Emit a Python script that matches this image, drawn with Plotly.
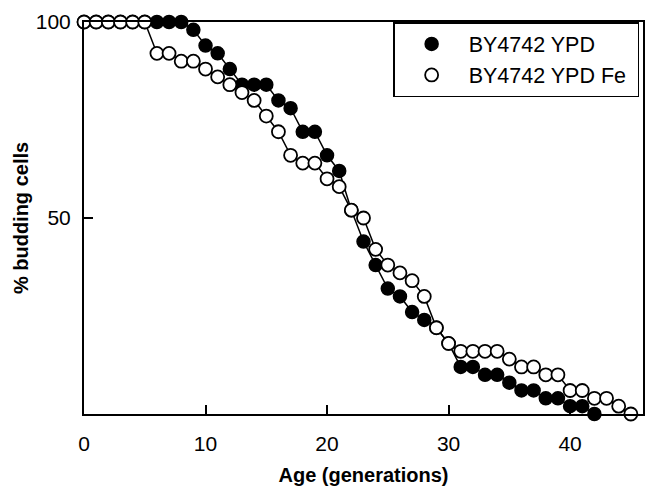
import plotly.graph_objects as go

gen_ypd = list(range(0, 43))
ypd = [100, 100, 100, 100, 100, 100, 100, 100, 100, 98,
       94, 92, 88, 84, 84, 84, 80, 78, 72, 72,
       66, 62, 52, 44, 38, 32, 30, 26, 24, 22,
       18, 12, 12, 10, 10, 8, 6, 6, 4, 4,
       2, 2, 0]

gen_fe = list(range(0, 46))
ypd_fe = [100, 100, 100, 100, 100, 100, 92, 92, 90, 90,
          88, 86, 84, 82, 80, 76, 72, 66, 64, 64,
          60, 58, 52, 50, 42, 38, 36, 34, 30, 22,
          18, 16, 16, 16, 16, 14, 12, 12, 10, 10,
          6, 6, 4, 4, 2, 0]

x_ticks = [0, 10, 20, 30, 40]
y_ticks = [50, 100]

FONT = "Liberation Sans, Arial, sans-serif"

fig = go.Figure()
fig.add_trace(go.Scatter(x=gen_ypd, y=ypd, mode="lines", line=dict(color="black", width=1.5),
                         showlegend=False, hoverinfo="skip", cliponaxis=False))
fig.add_trace(go.Scatter(x=gen_ypd, y=ypd, mode="markers", name="BY4742 YPD",
                         marker=dict(size=13, color="black", line=dict(color="black", width=1.5)),
                         cliponaxis=False))
fig.add_trace(go.Scatter(x=gen_fe, y=ypd_fe, mode="lines", line=dict(color="black", width=1.5),
                         showlegend=False, hoverinfo="skip", cliponaxis=False))
fig.add_trace(go.Scatter(x=gen_fe, y=ypd_fe, mode="markers", name="BY4742 YPD Fe&nbsp;",
                         marker=dict(size=13, color="white", line=dict(color="black", width=1.8)),
                         cliponaxis=False))

fig.update_layout(
    width=659, height=503,
    margin=dict(l=84, r=16, t=22, b=89),
    paper_bgcolor="white", plot_bgcolor="white",
    font=dict(family=FONT, size=21, color="black"),
    legend=dict(x=0.553, y=1, xanchor="left", yanchor="top",
                bordercolor="black", borderwidth=1.5, bgcolor="white",
                font=dict(size=21.5), itemwidth=64),
    xaxis=dict(range=[0, 46], tickvals=x_ticks, ticks="inside", ticklen=9, tickwidth=1.5,
               tickcolor="black", showline=True, linecolor="black", linewidth=2, mirror=True,
               showgrid=False, zeroline=False, ticklabelstandoff=10, automargin=False,
               title=dict(text="<b>Age (generations)</b>", font=dict(size=20), standoff=14)),
    yaxis=dict(range=[0, 100], tickvals=y_ticks, ticks="inside", ticklen=9, tickwidth=1.5,
               tickcolor="black", showline=True, linecolor="black", linewidth=2, mirror=True,
               showgrid=False, zeroline=False, ticklabelstandoff=7, automargin=False,
               title=dict(text="<b>% budding cells</b>", font=dict(size=20), standoff=2)),
)

fig.write_html("out.html", config={"displayModeBar": False},
               post_script="document.body.style.margin='0';")
